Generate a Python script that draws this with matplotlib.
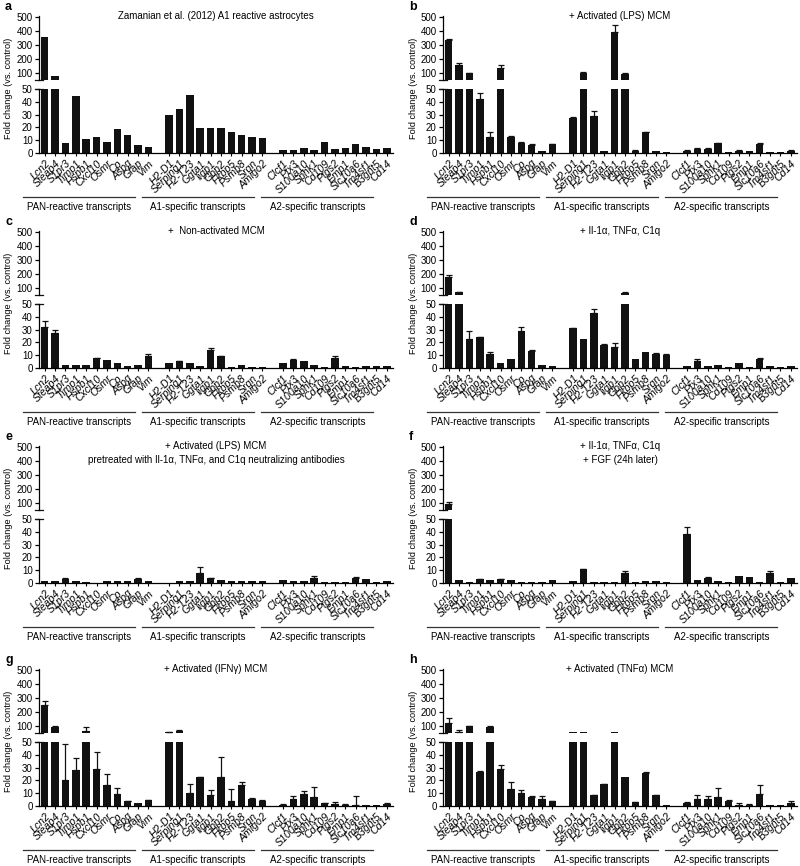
import numpy as np
import matplotlib
matplotlib.use("Agg")
import matplotlib.pyplot as plt

plt.rcParams["font.family"] = ["Liberation Sans", "DejaVu Sans"]

PAN = ["Lcn2", "Steap4", "S1pr3", "Timp1", "Hspb1", "Cxcl10", "Osmr", "Cp", "Aspg", "Gfap", "Vim"]
A1 = ["H2-D1", "Serping1", "H2-T23", "Ggta1", "Iigp1", "Gbp2", "Fkbp5", "Psmb8", "Srgn", "Amigo2"]
A2 = ["Clcf1", "Ptx3", "S100a10", "Sphk1", "Cd109", "Ptgs2", "Emp1", "Slc10a6", "Tm4sf1", "B3gnt5", "Cd14"]
GENES = PAN + A1 + A2
GROUPS = ["PAN-reactive transcripts", "A1-specific transcripts", "A2-specific transcripts"]

LETTERS = ["a", "b", "c", "d", "e", "f", "g", "h"]
TITLES = [
    "Zamanian et al. (2012) A1 reactive astrocytes",
    "+ Activated (LPS) MCM",
    "+  Non-activated MCM",
    "+ Il-1\u03b1, TNF\u03b1, C1q",
    "+ Activated (LPS) MCM\npretreated with Il-1\u03b1, TNF\u03b1, and C1q neutralizing antibodies",
    "+ Il-1\u03b1, TNF\u03b1, C1q\n+ FGF (24h later)",
    "+ Activated (IFN\u03b3) MCM",
    "+ Activated (TNF\u03b1) MCM",
]

# fold change values (PAN + A1 + A2) and upper error
val_a = [355, 78, 7.4, 45, 10.5, 12, 8.7, 18.4, 14, 5.8, 4.2,
         30, 34.2, 45.5, 19.7, 19.2, 19.2, 16.6, 14, 12.1, 11.3,
         2.1, 2.1, 4, 2.4, 8.7, 2.7, 4, 6.9, 4.8, 2.7, 3.4]
err_a = [0] * 32
val_b = [336, 155, 95, 42, 12, 134, 12, 8, 6, 1.5, 6.5,
         27, 96, 29, 1, 391, 93, 1.5, 16, 1, 0.5,
         1.5, 3, 3, 7.5, 0.3, 1.5, 1, 7, 0.3, 0.2, 1.5]
err_b = [10, 18, 5, 5, 4, 18, 1, 0.5, 1, 0, 0.5,
         1, 6, 4, 0, 50, 5, 0.5, 0.5, 0, 0,
         0.3, 0.5, 0.5, 0.5, 0, 0.3, 0, 0.5, 0, 0, 0.3]
val_c = [32, 27, 2, 2.5, 2.5, 7.5, 6, 3.5, 1, 2, 9.5,
         3.5, 5, 4, 1.5, 14, 9, 0.5, 2.5, 0.5, 0.5,
         3.5, 6, 5, 2, 0.5, 7.5, 1, 0.8, 1, 1, 1]
err_c = [5, 3, 0, 0, 0, 0.5, 0, 0, 0, 0, 1,
         0, 0.5, 0, 0, 1.5, 0.5, 0, 0, 0, 0,
         0, 1, 0, 0, 0, 2, 0, 0, 0, 0, 0]
val_d = [174, 66, 23, 24, 11, 4, 6.5, 29, 13.5, 2.5, 1.5,
         31, 23, 43, 18, 16, 62, 6.5, 12, 11, 10,
         1.5, 5, 1.5, 2, 0.5, 4, 0.5, 7, 1, 0.2, 1]
err_d = [16, 4, 6, 0.5, 1, 0, 0, 3, 0.5, 0, 0,
         0.5, 0, 3, 0.5, 3.5, 4, 0, 0, 0.5, 0.5,
         0, 1.5, 0, 0, 0, 0, 0, 1, 0, 0, 0]
val_e = [1, 1.5, 3, 1, 0.8, 0, 1, 1.2, 1.5, 3, 1,
         0, 1.5, 1, 8, 3.5, 2.5, 1, 1.5, 1.5, 1,
         2, 1, 1, 4, 0.5, 0.3, 0.8, 4, 3, 0.8, 1.3]
err_e = [0, 0, 0.5, 0, 0, 0, 0, 0, 0, 0.5, 0,
         0, 0, 0, 4.5, 0.5, 0, 0, 0, 0, 0,
         0, 0, 0, 1, 0, 0, 0, 0.3, 0, 0, 0]
val_f = [90, 2.5, 0.3, 3, 2, 3, 2.5, 0.5, 0.3, 0.5, 2,
         1.5, 10.5, 0.3, 0.3, 0.5, 7.5, 0.3, 1.5, 1, 0.3,
         38.5, 2.5, 4, 1.5, 0.5, 5, 4.5, 0.3, 7.5, 0.3, 4]
err_f = [18, 0, 0, 0.3, 0, 0.3, 0, 0, 0, 0, 0,
         0, 0.5, 0, 0, 0, 1.5, 0, 0, 0, 0,
         5.5, 0, 0.3, 0, 0, 0, 0, 0, 2, 0, 0]
val_g = [250, 93, 20, 28, 64, 29, 16.5, 9, 3.5, 2, 4.5,
         55, 65, 10, 22.5, 8.5, 23, 4, 16, 5.5, 4,
         0.8, 5, 9, 7, 2, 1, 0.8, 0.5, 0.5, 0.8, 1]
err_g = [30, 5, 29, 10, 26, 13, 8.5, 5, 0.3, 0, 0.3,
         2, 3, 7.5, 0.5, 4, 15.5, 9, 3, 0.5, 0.3,
         0.7, 2.5, 2.5, 7.5, 0.3, 2, 0.7, 7, 0, 0, 1]
val_h = [122, 55, 95, 26.5, 93, 29, 13.5, 10, 7, 5.5, 3.5,
         57, 56, 8.5, 17, 56, 22.5, 3, 26, 8.5, 0.5,
         2, 5.5, 5.5, 6.5, 4, 0.3, 0.5, 9.5, 0.5, 0.5, 2]
err_h = [35, 15, 3, 0.5, 5, 3, 5, 2, 0.3, 2.5, 0.3,
         0, 0, 0.3, 0.3, 0, 0, 0.3, 0.5, 0.3, 0,
         1, 3, 2.5, 7.5, 0.3, 2.2, 1, 6.5, 0, 0, 1.5]

VALUES = [val_a, val_b, val_c, val_d, val_e, val_f, val_g, val_h]
ERRORS = [err_a, err_b, err_c, err_d, err_e, err_f, err_g, err_h]

# bar slots, one empty slot between groups
xpos = np.concatenate([np.arange(0, 11), np.arange(12, 22), np.arange(23, 34)])
group_slots = [(0, 10), (12, 21), (23, 33)]

W, H = 800, 866
K = "#111111"
FS = 7
fig = plt.figure(figsize=(W / 100, H / 100), dpi=100)

col_x = [39, 443]
ax_w = 354
row_off = [0, 215, 430, 653]

for i in range(8):
    r, c = divmod(i, 2)
    x0, off = col_x[c], row_off[r]
    vals = np.array(VALUES[i], float)
    errs = np.array(ERRORS[i], float)

    ax_t = fig.add_axes([x0 / W, 1 - (79.6 + off) / H, ax_w / W, 63.7 / H])
    ax_b = fig.add_axes([x0 / W, 1 - (152.7 + off) / H, ax_w / W, 63.4 / H])

    # error bars only where they land inside each segment
    masks = [(errs > 0) & (vals > 50), (errs > 0) & (vals + errs < 50)]
    for ax, m in zip((ax_t, ax_b), masks):
        ax.bar(xpos, vals, width=0.72, color=K, zorder=2)
        ax.errorbar(xpos[m], vals[m], yerr=[np.zeros(m.sum()), errs[m]], fmt="none",
                    ecolor=K, elinewidth=0.9, capsize=2, capthick=0.9, zorder=3)
        ax.set_xlim(-0.55, 33.6)
        for s in ("top", "right"):
            ax.spines[s].set_visible(False)
        ax.spines["left"].set_linewidth(0.9)
        ax.tick_params(axis="y", length=3, width=0.9, labelsize=FS, pad=1.5)

    ax_t.set_ylim(50, 510)
    ax_t.set_yticks([100, 200, 300, 400, 500])
    ax_t.spines["bottom"].set_visible(False)
    ax_t.set_xticks([])
    ax_t.plot([-0.012, 0.012], [0, 0], transform=ax_t.transAxes, color=K, lw=0.9, clip_on=False)

    ax_b.set_ylim(0, 50)
    ax_b.set_yticks([0, 10, 20, 30, 40, 50])
    ax_b.spines["bottom"].set_linewidth(0.9)
    ax_b.plot([-0.012, 0.012], [1, 1], transform=ax_b.transAxes, color=K, lw=0.9, clip_on=False)
    ax_b.set_xticks(xpos)
    ax_b.set_xticklabels(GENES, rotation=45, ha="right", rotation_mode="anchor",
                         fontstyle="italic", fontsize=7.6)
    ax_b.tick_params(axis="x", length=2.5, width=0.8, pad=1.5)

    tr = ax_b.get_xaxis_transform()
    for (g0, g1), name in zip(group_slots, GROUPS):
        cx = (g0 + g1) / 2 - 1.7
        ax_b.plot([cx - 5.4, cx + 5.4], [-0.70, -0.70], transform=tr, color="#333333",
                  lw=0.9, clip_on=False)
        ax_b.text(cx, -0.86, name, transform=tr, ha="center", va="center", fontsize=FS)

    fig.text((x0 - 30) / W, 1 - (88 + off) / H, "Fold change (vs. control)", rotation=90,
             ha="center", va="center", fontsize=6.6)
    fig.text((x0 - 34) / W, 1 - (7 + off) / H, LETTERS[i], fontweight="bold", fontsize=9,
             ha="left", va="center")
    fig.text((x0 + ax_w / 2) / W, 1 - (11 + off) / H, TITLES[i], ha="center", va="top",
             fontsize=FS, linespacing=1.45)

fig.savefig("out.png", dpi=100)
